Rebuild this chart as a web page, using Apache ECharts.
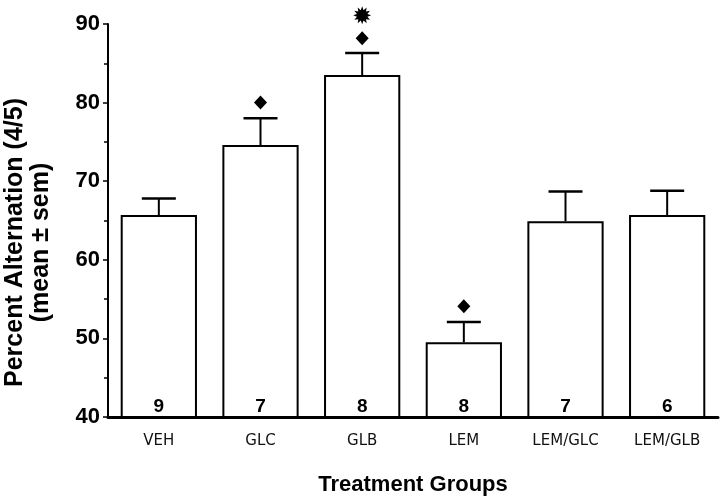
<!DOCTYPE html>
<html><head><meta charset="utf-8">
<script src="https://cdn.jsdelivr.net/npm/echarts@6/dist/echarts.min.js"></script>
<style>html,body{margin:0;padding:0;background:#fff}#c{width:720px;height:497px}</style>
</head><body><div id="c"></div>
<script>
var categories = ['VEH', 'GLC', 'GLB', 'LEM', 'LEM/GLC', 'LEM/GLB'];
var means = [65.7, 74.6, 83.5, 49.5, 64.9, 65.7];
var upper = [67.8, 78.0, 86.3, 52.1, 68.7, 68.8];
var counts = [9, 7, 8, 8, 7, 6];
var diamonds = [[1, 80.0], [2, 88.2], [3, 54.1]];
var stars = [[2, 91.1]];
var yTicks = [40, 50, 60, 70, 80, 90];

function starPath() {
  var pts = [], n = 12;
  for (var i = 0; i < n * 2; i++) {
    var r = i % 2 === 0 ? 10 : 6;
    var a = Math.PI * i / n;
    pts.push((10 + r * Math.cos(a)).toFixed(2) + ',' + (10 + r * Math.sin(a)).toFixed(2));
  }
  return 'path://M' + pts.join('L') + 'Z';
}

var chart = echarts.init(document.getElementById('c'));
chart.setOption({
  animation: false,
  backgroundColor: '#fff',
  grid: { left: 108, right: 2, top: 24, bottom: 80, containLabel: false, outerBoundsMode: 'none' },
  xAxis: {
    type: 'category', data: categories,
    axisLine: { lineStyle: { color: '#000', width: 3 } },
    axisTick: { show: false },
    axisLabel: { color: '#111', fontSize: 15, margin: 17, fontFamily: 'DejaVu Sans, sans-serif' },
    name: 'Treatment Groups', nameLocation: 'middle', nameGap: 57,
    nameTextStyle: { color: '#000', fontSize: 22, fontWeight: 'bold', fontFamily: 'Liberation Sans, Arial, sans-serif' }
  },
  yAxis: {
    type: 'value', min: 40, max: 90, interval: 10,
    axisLine: { show: true, lineStyle: { color: '#000', width: 2 } },
    axisTick: { show: true, inside: false, length: 5, lineStyle: { color: '#000', width: 1.5 } },
    minorTick: { show: true, splitNumber: 2, length: 4, lineStyle: { color: '#000', width: 1.5 } },
    splitLine: { show: false },
    axisLabel: {
      color: '#000', fontSize: 22, fontWeight: 'bold', margin: 8,
      fontFamily: 'Liberation Sans, Arial, sans-serif',
      formatter: function (v) { return yTicks.indexOf(v) >= 0 ? String(v) : ''; }
    },
    name: 'Percent Alternation (4/5)\n(mean \u00b1 sem)', nameLocation: 'middle', nameGap: 54, nameRotate: 90,
    nameTextStyle: { color: '#000', fontSize: 25, fontWeight: 'bold', lineHeight: 26, padding: [0, 44, 0, 0], fontFamily: 'Liberation Sans, Arial, sans-serif' }
  },
  series: [
    {
      type: 'bar', data: means, barCategoryGap: '25%',
      itemStyle: { color: '#fff', borderColor: '#000', borderWidth: 2 },
      label: {
        show: true, position: 'insideBottom', distance: 2,
        color: '#000', fontSize: 19, fontWeight: 'bold', fontFamily: 'Liberation Sans, Arial, sans-serif',
        formatter: function (p) { return String(counts[p.dataIndex]); }
      },
      z: 2
    },
    {
      type: 'custom',
      data: means.map(function (m, i) { return [i, m, upper[i]]; }),
      renderItem: function (params, api) {
        var base = api.coord([api.value(0), api.value(1)]);
        var top = api.coord([api.value(0), api.value(2)]);
        var hw = 17;
        return {
          type: 'group', children: [
            { type: 'line', shape: { x1: base[0], y1: base[1], x2: top[0], y2: top[1] }, style: { stroke: '#000', lineWidth: 2 } },
            { type: 'line', shape: { x1: top[0] - hw, y1: top[1], x2: top[0] + hw, y2: top[1] }, style: { stroke: '#000', lineWidth: 2.5 } }
          ]
        };
      },
      z: 3
    },
    {
      type: 'scatter', data: diamonds, symbol: 'diamond', symbolSize: [13, 14],
      itemStyle: { color: '#000', opacity: 1 }, clip: false, z: 4
    },
    {
      type: 'scatter', data: stars, symbol: starPath(), symbolSize: 18,
      itemStyle: { color: '#000', opacity: 1 }, clip: false, z: 4
    }
  ]
});
</script></body></html>
